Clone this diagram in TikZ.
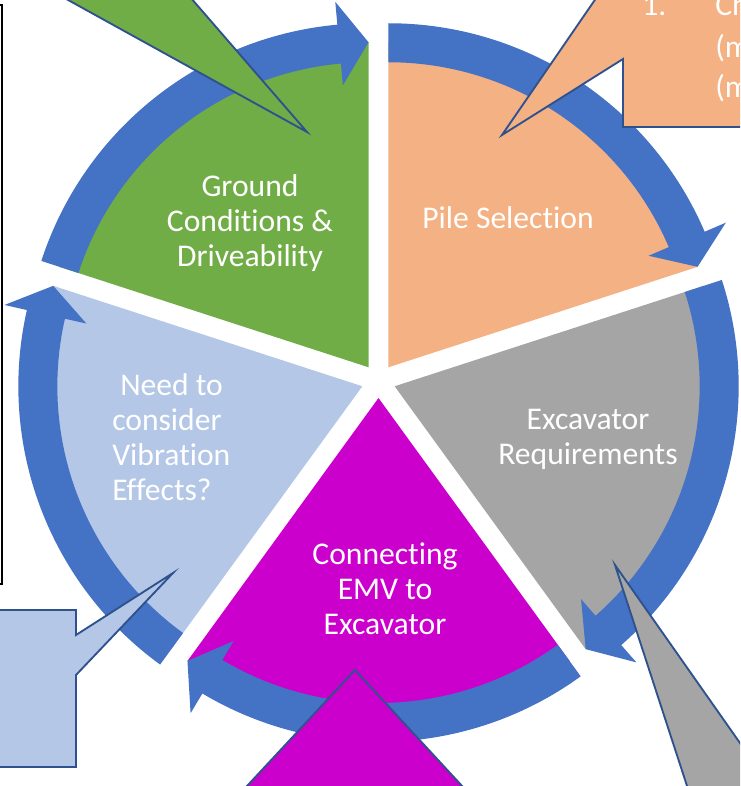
\documentclass[tikz,border=0pt]{standalone}
\usepackage{fontspec}
\setmainfont{Carlito}[Ligatures=NoCommon]
\usetikzlibrary{calc}

\definecolor{arrowblue}{RGB}{68,114,196}
\definecolor{greenseg}{RGB}{112,173,71}
\definecolor{orangeseg}{RGB}{244,177,131}
\definecolor{grayseg}{RGB}{165,165,165}
\definecolor{magentaseg}{RGB}{204,0,204}
\definecolor{lightseg}{RGB}{180,199,231}
\definecolor{outlineblue}{RGB}{47,82,143}

\tikzset{
  segtext/.style={text=white, font=\fontsize{23.7}{26.3}\selectfont, align=center, inner sep=0pt},
  calltext/.style={text=white, font=\fontsize{23.7}{26.3}\selectfont, inner sep=0pt, anchor=base west},
  callout/.style={draw=outlineblue, line width=1.4pt, line join=miter},
}

\begin{document}
\begin{tikzpicture}[x=0.75pt,y=0.75pt,yscale=-1,xscale=1]
\useasboundingbox (0,0) rectangle (740,786);
\clip (0,0) rectangle (740,786);

% pie pieces with their arrows, each one pushed out along its bisector
\foreach \col/\s in {greenseg/-162, orangeseg/-90, grayseg/-18, magentaseg/54, lightseg/126}{
  \pgfmathsetmacro{\tipang}{\s+72}
  \pgfmathsetmacro{\headang}{\s+72-5.2}
  \begin{scope}[shift={(378.5,381)}, shift={({\s+36}:17)}]
    \fill[\col] (0,0) -- (\s:325) arc[start angle=\s, end angle=\tipang, radius=325] -- cycle;
    \fill[arrowblue] (\s:344) arc[start angle=\s, end angle=\headang, radius=344]
      -- (\headang:367) -- (\tipang:325) -- (\headang:283) -- (\headang:305)
      arc[start angle=\headang, end angle=\s, radius=305] -- cycle;
  \end{scope}
}

\node[segtext] (ground) at (250,223) {Ground\\Conditions \&\\Driveability};
\node[segtext] (pile) at (508,218) {Pile Selection};
\node[segtext] (excav) at (588,439) {Excavator\\Requirements};
\node[segtext] (connect) at (385,589) {Connecting\\EMV to\\Excavator};
\node[segtext, align=left, anchor=west] (vibration) at (112,437) {\hspace*{6pt}Need to\\consider\\Vibration\\Effects?};

% callouts, cut by the page edge
\draw[black, line width=1.8pt] (-20,5) rectangle (2,584);
\draw[callout, fill=greenseg] (50,-10) -- (307,132) -- (184,-10) -- cycle;
\draw[callout, fill=orangeseg] (623,127) -- (623,59) -- (502,135) -- (623,-41) -- (623,-60) -- (800,-60) -- (800,127) -- cycle;
\node[calltext] (num) at (642,15) {1.};
\node[calltext] (line1) at (715,15) {Ch};
\node[calltext] (line2) at (715,57) {(m};
\node[calltext] (line3) at (715,97) {(m};
\draw[callout, fill=lightseg] (-20,610) -- (76,610) -- (76,635) -- (173,573) -- (76,675) -- (76,767) -- (-20,767) -- cycle;
\draw[callout, fill=magentaseg] (234,800) -- (355,670) -- (475,800) -- cycle;
\draw[callout, fill=grayseg] (615,565) -- (760,771.5) -- (760,800) -- (691.6,800) -- cycle;
\end{tikzpicture}
\end{document}
